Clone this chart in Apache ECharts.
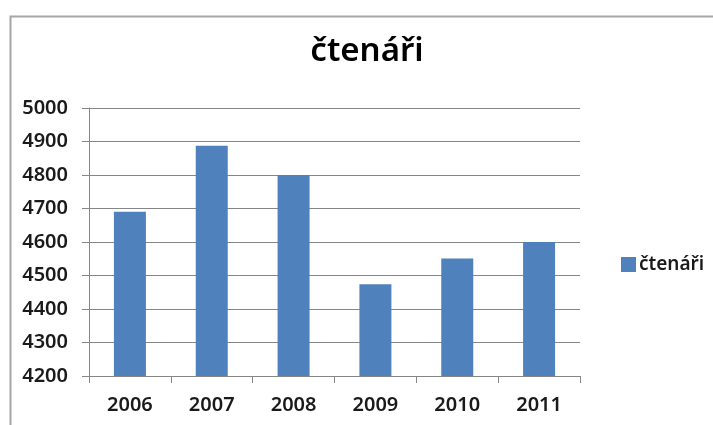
<!DOCTYPE html>
<html>
<head>
<meta charset="utf-8">
<script src="https://cdn.jsdelivr.net/npm/echarts@6/dist/echarts.min.js"></script>
<style>html,body{margin:0;padding:0;background:#fff;}#c{width:713px;height:425px;}</style>
</head>
<body>
<div id="c"></div>
<script>
const titleText = 'čtenáři';
const seriesName = 'čtenáři';
const categories = ['2006', '2007', '2008', '2009', '2010', '2011'];
const values = [4690, 4887, 4800, 4474, 4551, 4600];
const yMin = 4200, yMax = 5000, yStep = 100;

const chart = echarts.init(document.getElementById('c'), null, {renderer: 'canvas'});
const font = 'Noto Sans';
chart.setOption({
  backgroundColor: '#ffffff',
  animation: false,
  graphic: [{
    type: 'rect', left: 8, top: 14,
    shape: {width: 740, height: 440},
    style: {fill: 'none', stroke: '#a6a6a6', lineWidth: 2},
    silent: true, z: -1
  }],
  title: {
    text: titleText, left: 362, top: 30, textAlign: 'center',
    textStyle: {fontFamily: font, fontSize: 33, fontWeight: 600, color: '#000'}
  },
  legend: {
    data: [seriesName], left: 616, top: 250, orient: 'vertical',
    itemWidth: 15, itemHeight: 15, icon: 'rect',
    textStyle: {fontFamily: font, fontSize: 19, fontWeight: 600, color: '#1a1a1a', padding: [0,0,0,-2]}
  },
  grid: {left: 89, right: 133, top: 108, bottom: 49, containLabel: false},
  xAxis: {
    type: 'category', data: categories,
    axisLine: {lineStyle: {color: '#868686', width: 1}},
    axisTick: {show: true, length: 7, alignWithLabel: false, lineStyle: {color: '#868686'}},
    axisLabel: {fontFamily: font, fontSize: 20, fontWeight: 600, color: '#1a1a1a', margin: 19}
  },
  yAxis: {
    type: 'value', min: yMin, max: yMax, interval: yStep,
    axisLine: {show: true, lineStyle: {color: '#868686', width: 1}},
    axisTick: {show: true, length: 7, lineStyle: {color: '#868686'}},
    splitLine: {lineStyle: {color: '#868686', width: 1}},
    axisLabel: {fontFamily: font, fontSize: 20, fontWeight: 600, color: '#1a1a1a', margin: 21,
      formatter: v => String(v)}
  },
  series: [{
    name: seriesName, type: 'bar', data: values, barWidth: 32,
    itemStyle: {color: '#4f81bd'}
  }]
});
</script>
</body>
</html>
